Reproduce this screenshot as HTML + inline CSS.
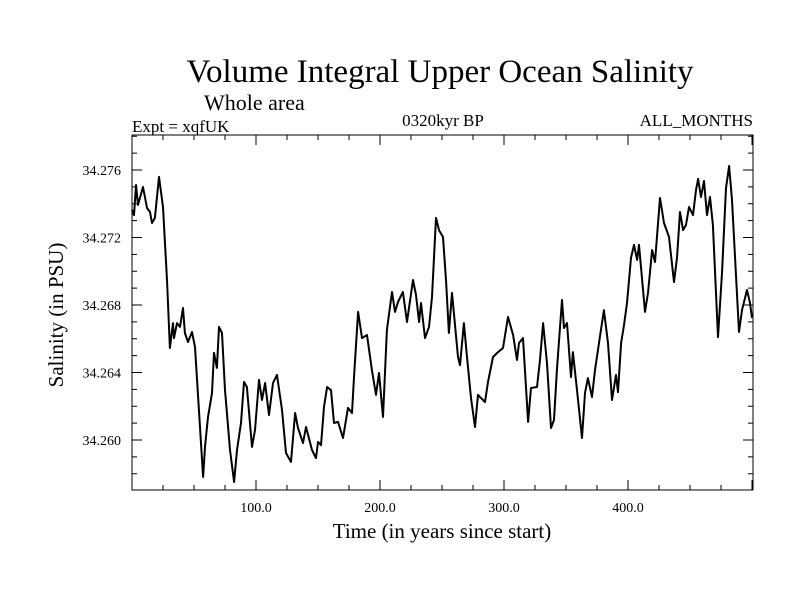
<!DOCTYPE html>
<html><head><meta charset="utf-8"><style>
body{margin:0;background:#fff;}
svg{display:block;font-family:"Liberation Serif",serif;}
</style></head><body>
<svg id="chart" width="800" height="600" viewBox="0 0 800 600">
<text x="440" y="82" font-size="33" text-anchor="middle">Volume Integral Upper Ocean Salinity</text>
<text x="204" y="110" font-size="22">Whole area</text>
<text x="132" y="132" font-size="17">Expt = xqfUK</text>
<text x="443" y="126" font-size="17" text-anchor="middle">0320kyr BP</text>
<text x="753" y="126" font-size="17" text-anchor="end">ALL_MONTHS</text>
<text x="442" y="538" font-size="21" text-anchor="middle">Time (in years since start)</text>
<text transform="translate(63,315) rotate(-90)" font-size="21" text-anchor="middle">Salinity (in PSU)</text>
<g id="axes"></g>
<path id="line" fill="none" stroke="#000" stroke-width="2" stroke-linejoin="round"/>
<rect x="132" y="135" width="621" height="355" fill="none" stroke="#000" stroke-width="1"/>
</svg>
<script>
const years=[0,1.6,3.2,4.8,8.9,12.1,14.5,16.1,18.5,21.8,25.0,28.2,30.6,33.1,33.9,36.3,38.7,41.1,42.7,45.2,48.4,50.8,57.3,58.9,61.3,64.5,66.1,68.5,70.2,72.6,75.0,79.0,82.3,84.7,87.9,90.3,92.7,96.8,99.2,102.4,104.8,107.3,110.5,113.7,116.9,121.0,124.2,128.2,131.5,133.9,137.9,140.3,145.2,148.4,150.0,152.4,154.8,157.3,160.5,162.9,166.1,170.2,174.2,177.4,179.0,182.3,185.5,189.5,193.5,196.8,199.2,202.4,205.6,209.7,212.1,214.5,218.5,221.8,226.6,229.0,231.5,233.1,236.3,239.5,241.9,245.2,247.6,250.8,253.2,255.6,258.1,262.9,264.5,267.7,270.2,273.4,276.6,279.0,284.7,287.1,291.1,295.2,299.2,303.2,307.3,310.5,312.1,315.3,319.4,321.8,326.6,329.0,331.5,334.7,337.9,340.3,342.7,346.8,348.4,350.8,354.0,355.6,358.9,362.9,365.3,367.7,371.0,373.4,376.6,380.6,383.9,387.1,390.3,391.9,394.4,396.8,399.2,402.4,404.8,407.3,408.9,413.7,416.1,419.4,421.8,425.8,429.0,433.1,437.1,439.5,441.9,444.4,446.8,449.2,452.4,454.8,456.5,458.9,461.3,463.7,466.1,468.5,472.6,475.8,479.0,481.5,483.9,489.5,491.9,496.0,498.4,500.0];
const salinity=[34.27363,34.27333,34.27511,34.27393,34.27499,34.27375,34.27351,34.27286,34.27316,34.27559,34.27381,34.26948,34.26545,34.26693,34.26604,34.26693,34.2667,34.26782,34.26634,34.26581,34.2664,34.26551,34.25781,34.25959,34.26136,34.26279,34.26516,34.26427,34.2667,34.26634,34.26296,34.25941,34.25751,34.25941,34.26101,34.26344,34.26314,34.25959,34.26059,34.26356,34.26237,34.26338,34.26148,34.26338,34.26385,34.26178,34.25923,34.2587,34.2616,34.26071,34.25982,34.26077,34.25941,34.25893,34.25988,34.2597,34.26196,34.26314,34.26296,34.26101,34.26107,34.26012,34.2619,34.2616,34.26373,34.26759,34.26604,34.26622,34.26415,34.26267,34.26397,34.26136,34.26652,34.26877,34.26759,34.26818,34.26877,34.26699,34.26948,34.26859,34.26699,34.26812,34.26604,34.2667,34.26847,34.27316,34.27244,34.27203,34.26948,34.26634,34.26871,34.26492,34.26444,34.26693,34.26492,34.26249,34.26077,34.26267,34.26225,34.26344,34.26492,34.26521,34.26545,34.26729,34.26622,34.26474,34.26575,34.26604,34.26107,34.26308,34.26314,34.26474,34.26693,34.26456,34.26071,34.26119,34.26415,34.2683,34.26664,34.26693,34.26373,34.26521,34.26296,34.26012,34.26279,34.26367,34.26255,34.26415,34.26575,34.2677,34.26575,34.26237,34.26385,34.26284,34.26575,34.26681,34.26812,34.27079,34.27156,34.27067,34.27156,34.26759,34.26871,34.27126,34.27055,34.27434,34.27286,34.27203,34.26936,34.27079,34.27351,34.27244,34.27274,34.27381,34.27333,34.27481,34.27547,34.2744,34.27535,34.27333,34.2744,34.27274,34.2661,34.2699,34.27493,34.27624,34.27422,34.2664,34.2677,34.26889,34.26812,34.26723];
const xTickLabels=["100.0","200.0","300.0","400.0"];
const xTickValues=[100,200,300,400];
const yTickLabels=["34.260","34.264","34.268","34.272","34.276"];
const yTickValues=[34.260,34.264,34.268,34.272,34.276];

const L=132,R=753,T=135,B=490;
const X0=0,X1=(R-L)/1.24;
const Yref=34.276,Ypx=170,pxPer=16875;
function sx(v){return L+(v-X0)*1.24;}
function sy(v){return Ypx-(v-Yref)*pxPer;}
const NS="http://www.w3.org/2000/svg";
const axes=document.getElementById('axes');
function ln(x1,y1,x2,y2,name){
  const e=document.createElementNS(NS,'line');
  e.setAttribute('x1',x1);e.setAttribute('y1',y1);e.setAttribute('x2',x2);e.setAttribute('y2',y2);
  e.setAttribute('stroke','#000');e.setAttribute('stroke-width','1');
  
  
  axes.appendChild(e);
}
function tx(x,y,s,anchor,name){
  const e=document.createElementNS(NS,'text');
  e.setAttribute('x',x);e.setAttribute('y',y);e.setAttribute('font-size','14');e.setAttribute('text-anchor',anchor);
  e.textContent=s;
  
  
  axes.appendChild(e);
}
// x ticks every 25
for(let v=25;v<X1;v+=25){
  const x=sx(v),maj=(v%100===0),len=maj?10:5;
  ln(x,B,x,B-len,'x-tick');
  ln(x,T,x,T+len,'x-tick-top');
}
xTickValues.forEach((v,i)=>tx(sx(v),512,xTickLabels[i],'middle','x-tick-label'));
// y ticks every 0.001
for(let k=-3;k<=2;k++){}
for(let i=0;i<25;i++){
  const v=34.257+i*0.001;const y=sy(v);
  if(y<T||y>B)continue;
  const maj=Math.abs(((v-34.260)/0.004)-Math.round((v-34.260)/0.004))<1e-6;
  const len=maj?10:5;
  ln(L,y,L+len,y,'y-tick');
  ln(R,y,R-len,y,'y-tick-right');
}
yTickValues.forEach((v,i)=>tx(121,sy(v)+5,yTickLabels[i],'end','y-tick-label'));
let d='';
years.forEach((yr,i)=>{d+=(i?'L':'M')+sx(yr).toFixed(1)+','+sy(salinity[i]).toFixed(1);});
document.getElementById('line').setAttribute('d',d);
</script>
</body></html>
